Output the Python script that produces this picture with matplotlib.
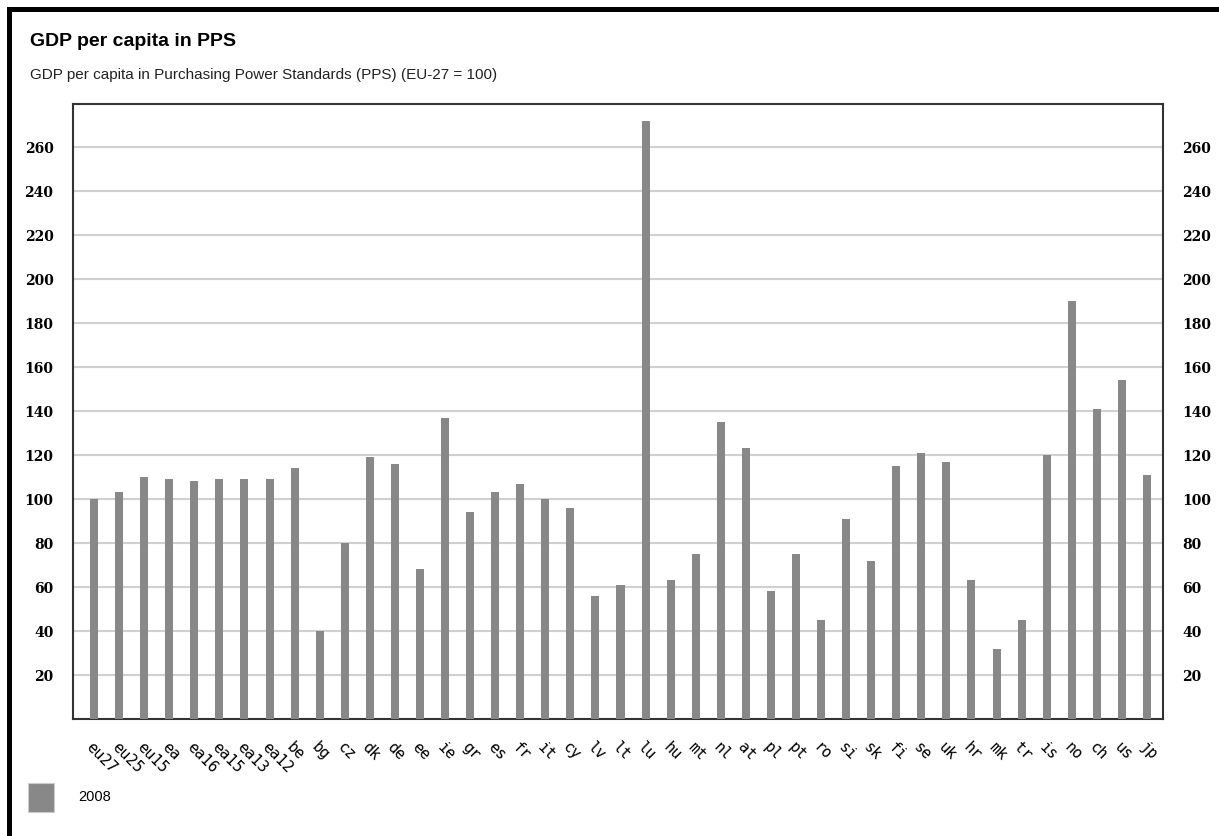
import matplotlib.pyplot as plt
from matplotlib.patches import Rectangle

countries = ['eu27', 'eu25', 'eu15', 'ea', 'ea16', 'ea15', 'ea13', 'ea12', 'be', 'bg',
             'cz', 'dk', 'de', 'ee', 'ie', 'gr', 'es', 'fr', 'it', 'cy', 'lv', 'lt',
             'lu', 'hu', 'mt', 'nl', 'at', 'pl', 'pt', 'ro', 'si', 'sk', 'fi', 'se',
             'uk', 'hr', 'mk', 'tr', 'is', 'no', 'ch', 'us', 'jp']
gdp_2008 = [100, 103, 110, 109, 108, 109, 109, 109, 114, 40,
            80, 119, 116, 68, 137, 94, 103, 107, 100, 96, 56, 61,
            272, 63, 75, 135, 123, 58, 75, 45, 91, 72, 115, 121,
            117, 63, 32, 45, 120, 190, 141, 154, 111]
yticks = [20, 40, 60, 80, 100, 120, 140, 160, 180, 200, 220, 240, 260]

W, H = 1219, 837
fig = plt.figure(figsize=(W / 100, H / 100), dpi=100)

# plot area in pixels: left 73, right 1163, top 105, bottom 720
ax = fig.add_axes([73 / W, 1 - 720 / H, 1090 / W, 615 / H])
x = list(range(len(countries)))
ax.bar(x, gdp_2008, width=0.32, color='#888888', zorder=3)
ax.set_xlim(-0.84, 42.64)
ax.set_ylim(0, 279.5)

ax.set_yticks(yticks)
ax.yaxis.grid(True, color='#d0d0d0', linewidth=1.5, zorder=1)
ax.tick_params(axis='y', length=0, pad=14, labelright=True, labelleft=True)
for lab in ax.get_yticklabels():
    lab.set_fontfamily('DejaVu Serif')
    lab.set_fontweight('bold')
    lab.set_fontsize(10)
ax.set_xticks(x)
ax.set_xticklabels(countries, rotation=-45, ha='left', va='top',
                   rotation_mode='anchor', fontsize=11, family='DejaVu Sans Mono')
ax.tick_params(axis='x', length=0, pad=14)
for s in ax.spines.values():
    s.set_color('#333333')
    s.set_linewidth(1.5)

# title and subtitle
fig.text(30 / W, 1 - 42 / H, 'GDP per capita in PPS', fontsize=14, fontweight='bold',
         family='Liberation Sans', va='center', ha='left')
fig.text(30 / W, 1 - 75 / H, 'GDP per capita in Purchasing Power Standards (PPS) (EU-27 = 100)',
         fontsize=11, family='Liberation Sans', va='center', ha='left', color='#222222')

# legend
fig.patches.append(Rectangle((28 / W, 1 - 813 / H), 26 / W, 29 / H, transform=fig.transFigure,
                             facecolor='#888888', edgecolor='#cccccc', linewidth=0.8))
fig.text(78 / W, 1 - 797 / H, '2008', fontsize=10.5, family='Liberation Sans',
         va='center', ha='left')

# black frame lines (left and top)
fig.patches.append(Rectangle((7 / W, 0), 5 / W, 1 - 8 / H, transform=fig.transFigure,
                             facecolor='black', edgecolor='none'))
fig.patches.append(Rectangle((7 / W, 1 - 13 / H), 1, 5 / H, transform=fig.transFigure,
                             facecolor='black', edgecolor='none'))

fig.savefig('out.png', dpi=100)
